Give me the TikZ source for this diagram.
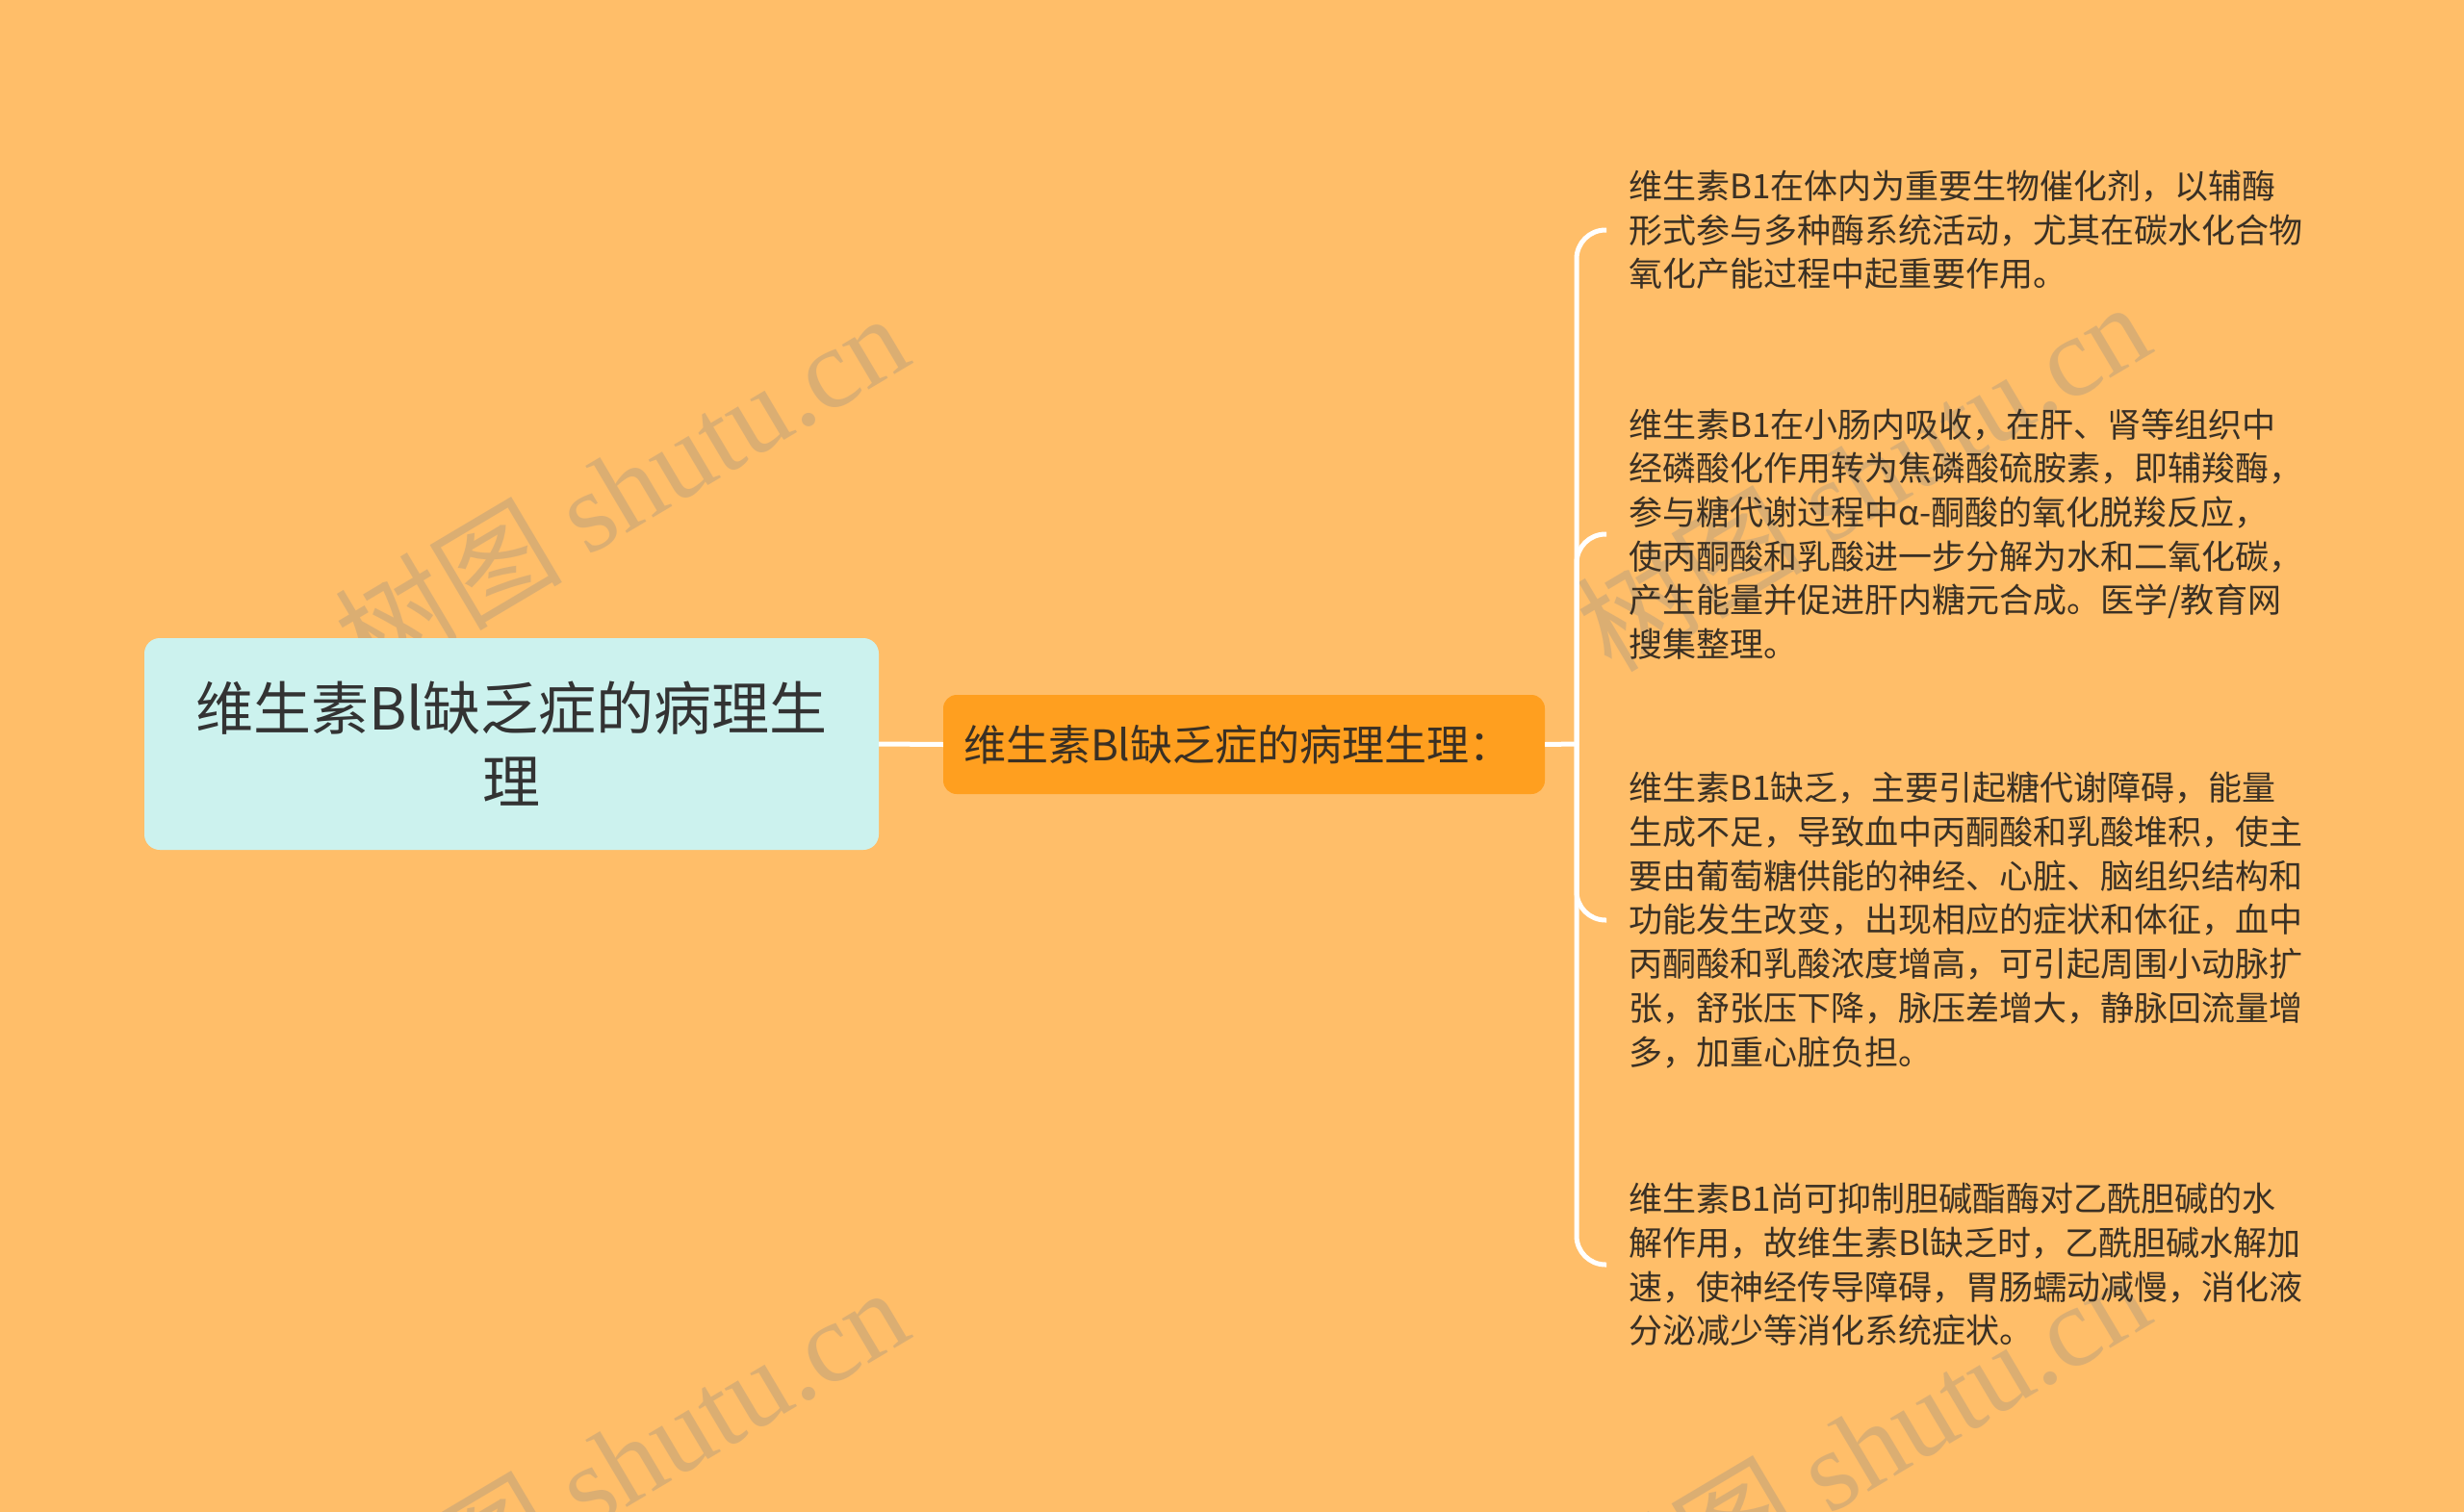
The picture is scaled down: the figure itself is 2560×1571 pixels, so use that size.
\documentclass[tikz,border=0pt]{standalone}
\usepackage{fontspec}
\setmainfont{Noto Sans CJK SC}
\newfontfamily\wmserif{Liberation Serif}
\newfontfamily\wmcjk{Noto Sans CJK SC}
\definecolor{bgc}{HTML}{FFBE69}
\definecolor{rootfill}{HTML}{CCF2EE}
\definecolor{midfill}{HTML}{FF9F1F}
\definecolor{txtc}{HTML}{333333}
\definecolor{leaftxt}{HTML}{3A3024}
\definecolor{wmc}{HTML}{8A8A8A}
\tikzset{
  rootbox/.style={draw=none, fill=rootfill, rounded corners=16pt, minimum width=763pt, minimum height=220pt, align=center, text=txtc, font=\fontsize{60}{76}\selectfont, inner sep=0pt},
  midbox/.style={draw=none, fill=midfill, rounded corners=14pt, minimum width=625pt, minimum height=103pt, text=leaftxt, font=\fontsize{44}{52}\selectfont, inner xsep=21pt, text width=583pt, align=left},
  leafbox/.style={anchor=west, align=left, text=leaftxt, font=\fontsize{35}{45.7}\selectfont, inner xsep=23pt, inner ysep=0pt},
  conn/.style={draw=white, line width=5pt},
  branch/.style={draw=white, line width=5pt, rounded corners=30pt},
  wmark/.style={text=wmc, opacity=0.3, rotate=30.7, inner sep=0pt}
}
\begin{document}
\begin{tikzpicture}[x=1pt,y=-1pt]
\fill[bgc] (0,0) rectangle (2560,1571);
\useasboundingbox (0,0) rectangle (2560,1571);

% watermarks
\node[wmark] (wm1) at (645,506) {\wmcjk\fontsize{118}{118}\selectfont 树图 \wmserif shutu.cn};
\node[wmark] (wm2) at (1935,494) {\wmcjk\fontsize{118}{118}\selectfont 树图 \wmserif shutu.cn};
\node[wmark] (wm3) at (645,1518) {\wmcjk\fontsize{118}{118}\selectfont 树图 \wmserif shutu.cn};
\node[wmark] (wm4) at (1935,1502) {\wmcjk\fontsize{118}{118}\selectfont 树图 \wmserif shutu.cn};

\node[rootbox] (root) at (531.5,773) {维生素Bl缺乏症的病理生\\理};
\node[midbox] (mid) at (1292.5,773.5) {维生素Bl缺乏症的病理生理：};

\coordinate (trunk) at (1638,773);

\node[leafbox] (l1) at (1669,239) {维生素B1在体内为重要生物催化剂，以辅酶\\形式参与多种酶系统活动，尤其在碳水化合物\\氧化产能过程中起重要作用。};
\node[leafbox] (l2) at (1669,555) {维生素B1在小肠内吸收，在肝、肾等组织中\\经磷酸化作用转为焦磷酸硫胺素，即辅羧酶，\\参与糖代谢过程中α-酮酸的氧化脱羧反应，\\使丙酮酸和乳酸进一步分解为水和二氧化碳，\\产生能量并促进肝内糖元合成。医学/教育网\\搜集整理。};
\node[leafbox] (l3) at (1669,956) {维生素B1缺乏，主要引起糖代谢障碍，能量\\生成不足，导致血中丙酮酸和乳酸堆积，使主\\要由葡萄糖供能的神经、心脏、脑组织结构和\\功能发生改变，出现相应的症状和体征，血中\\丙酮酸和乳酸浓度增高，可引起周围小动脉扩\\张，舒张压下降，脉压差增大，静脉回流量增\\多，加重心脏负担。};
\node[leafbox] (l4) at (1669,1314) {维生素B1尚可抑制胆碱酯酶对乙酰胆碱的水\\解作用，故维生素Bl缺乏时，乙酰胆碱水解加\\速，使神经传导障碍，胃肠蠕动减慢，消化液\\分泌减少等消化系统症状。};

\draw[conn] (root.east) -- (mid.west);
\draw[conn] (mid.east) -- (trunk);
\draw[branch] (trunk) |- (l1.west);
\draw[branch] (trunk) |- (l2.west);
\draw[branch] (trunk) |- (l3.west);
\draw[branch] (trunk) |- (l4.west);
\end{tikzpicture}
\end{document}
